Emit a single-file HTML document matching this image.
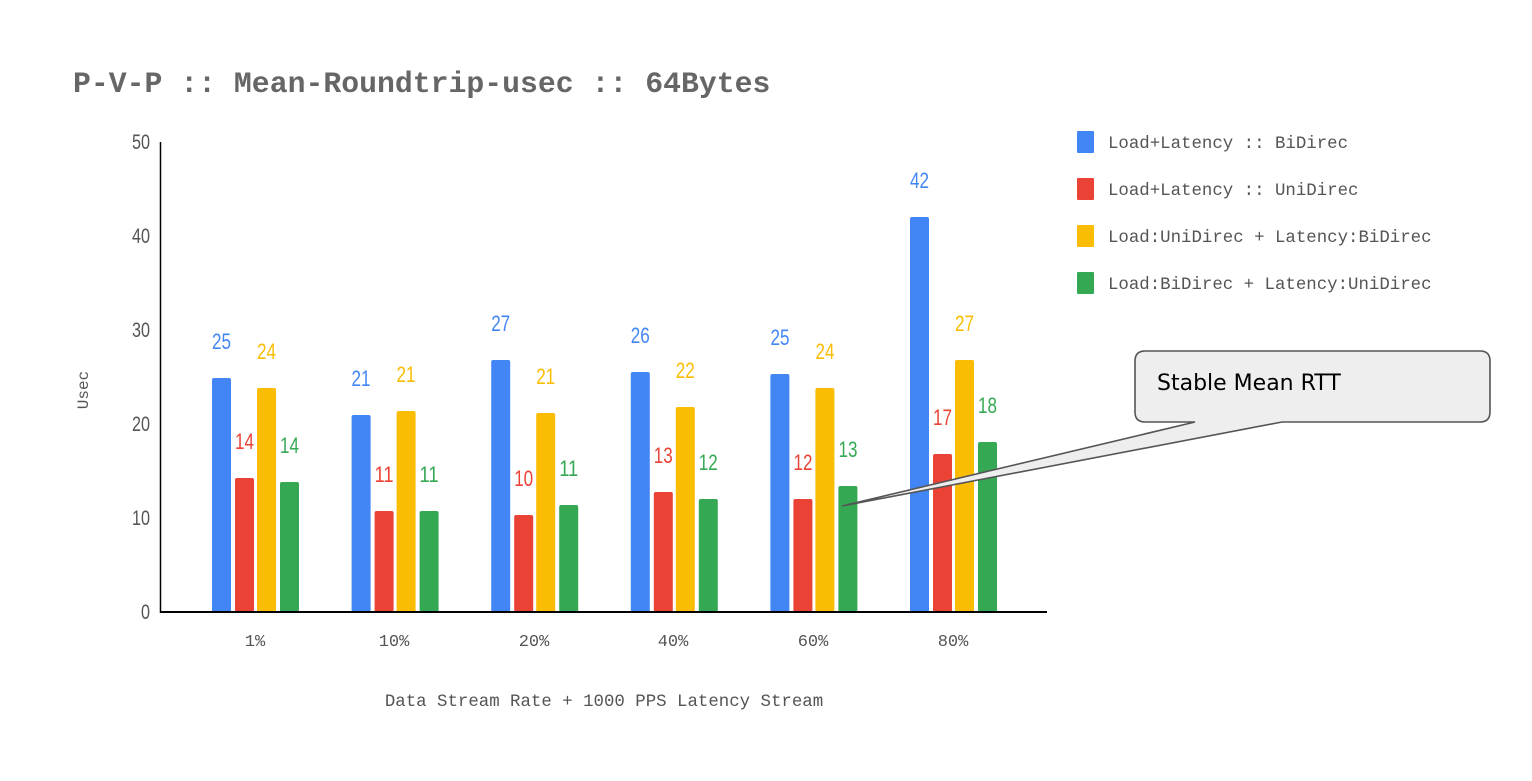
<!DOCTYPE html>
<html><head><meta charset="utf-8"><style>
html,body{margin:0;padding:0;background:#fff;}
svg{display:block;}
.m{font-family:"Liberation Mono",monospace;fill:#555;}
.n{font-family:"Liberation Sans",sans-serif;font-size:22px;text-anchor:middle;}
.t{font-family:"Liberation Sans",sans-serif;font-size:21px;fill:#555;text-anchor:end;}
</style></head><body>
<svg width="1532" height="781" viewBox="0 0 1532 781" xmlns="http://www.w3.org/2000/svg">
<text x="73" y="92" class="m" style="font-size:29.8px;font-weight:bold;fill:#666">P-V-P :: Mean-Roundtrip-usec :: 64Bytes</text>
<text class="t" x="150" y="149" textLength="18" lengthAdjust="spacingAndGlyphs">50</text>
<text class="t" x="150" y="243" textLength="18" lengthAdjust="spacingAndGlyphs">40</text>
<text class="t" x="150" y="337" textLength="18" lengthAdjust="spacingAndGlyphs">30</text>
<text class="t" x="150" y="431" textLength="18" lengthAdjust="spacingAndGlyphs">20</text>
<text class="t" x="150" y="525" textLength="18" lengthAdjust="spacingAndGlyphs">10</text>
<text class="t" x="150" y="619" textLength="9" lengthAdjust="spacingAndGlyphs">0</text>
<text class="m" style="font-size:16px" transform="translate(88,390) rotate(-90)" text-anchor="middle">Usec</text>
<g>
<rect x="212" y="378" width="19" height="234" rx="2" fill="#4285F4"/><rect x="235" y="478" width="19" height="134" rx="2" fill="#EA4335"/><rect x="257" y="388" width="19" height="224" rx="2" fill="#FBBC04"/><rect x="280" y="482" width="19" height="130" rx="2" fill="#34A853"/>
<rect x="351.6" y="415" width="19" height="197" rx="2" fill="#4285F4"/><rect x="374.6" y="511" width="19" height="101" rx="2" fill="#EA4335"/><rect x="396.6" y="411" width="19" height="201" rx="2" fill="#FBBC04"/><rect x="419.6" y="511" width="19" height="101" rx="2" fill="#34A853"/>
<rect x="491.2" y="360" width="19" height="252" rx="2" fill="#4285F4"/><rect x="514.2" y="515" width="19" height="97" rx="2" fill="#EA4335"/><rect x="536.2" y="413" width="19" height="199" rx="2" fill="#FBBC04"/><rect x="559.2" y="505" width="19" height="107" rx="2" fill="#34A853"/>
<rect x="630.8" y="372" width="19" height="240" rx="2" fill="#4285F4"/><rect x="653.8" y="492" width="19" height="120" rx="2" fill="#EA4335"/><rect x="675.8" y="407" width="19" height="205" rx="2" fill="#FBBC04"/><rect x="698.8" y="499" width="19" height="113" rx="2" fill="#34A853"/>
<rect x="770.4" y="374" width="19" height="238" rx="2" fill="#4285F4"/><rect x="793.4" y="499" width="19" height="113" rx="2" fill="#EA4335"/><rect x="815.4" y="388" width="19" height="224" rx="2" fill="#FBBC04"/><rect x="838.4" y="486" width="19" height="126" rx="2" fill="#34A853"/>
<rect x="910" y="217" width="19" height="395" rx="2" fill="#4285F4"/><rect x="933" y="454" width="19" height="158" rx="2" fill="#EA4335"/><rect x="955" y="360" width="19" height="252" rx="2" fill="#FBBC04"/><rect x="978" y="442" width="19" height="170" rx="2" fill="#34A853"/>
</g>
<g class="n">
<text x="221.5" y="349" fill="#4285F4" textLength="19" lengthAdjust="spacingAndGlyphs">25</text><text x="244.5" y="449" fill="#EA4335" textLength="19" lengthAdjust="spacingAndGlyphs">14</text><text x="266.5" y="359" fill="#FBBC04" textLength="19" lengthAdjust="spacingAndGlyphs">24</text><text x="289.5" y="453" fill="#34A853" textLength="19" lengthAdjust="spacingAndGlyphs">14</text>
<text x="361" y="386" fill="#4285F4" textLength="19" lengthAdjust="spacingAndGlyphs">21</text><text x="384" y="482" fill="#EA4335" textLength="19" lengthAdjust="spacingAndGlyphs">11</text><text x="406" y="382" fill="#FBBC04" textLength="19" lengthAdjust="spacingAndGlyphs">21</text><text x="429" y="482" fill="#34A853" textLength="19" lengthAdjust="spacingAndGlyphs">11</text>
<text x="500.7" y="331" fill="#4285F4" textLength="19" lengthAdjust="spacingAndGlyphs">27</text><text x="523.7" y="486" fill="#EA4335" textLength="19" lengthAdjust="spacingAndGlyphs">10</text><text x="545.7" y="384" fill="#FBBC04" textLength="19" lengthAdjust="spacingAndGlyphs">21</text><text x="568.7" y="476" fill="#34A853" textLength="19" lengthAdjust="spacingAndGlyphs">11</text>
<text x="640.3" y="343" fill="#4285F4" textLength="19" lengthAdjust="spacingAndGlyphs">26</text><text x="663.3" y="463" fill="#EA4335" textLength="19" lengthAdjust="spacingAndGlyphs">13</text><text x="685.3" y="378" fill="#FBBC04" textLength="19" lengthAdjust="spacingAndGlyphs">22</text><text x="708.3" y="470" fill="#34A853" textLength="19" lengthAdjust="spacingAndGlyphs">12</text>
<text x="780" y="345" fill="#4285F4" textLength="19" lengthAdjust="spacingAndGlyphs">25</text><text x="803" y="470" fill="#EA4335" textLength="19" lengthAdjust="spacingAndGlyphs">12</text><text x="825" y="359" fill="#FBBC04" textLength="19" lengthAdjust="spacingAndGlyphs">24</text><text x="848" y="457" fill="#34A853" textLength="19" lengthAdjust="spacingAndGlyphs">13</text>
<text x="919.5" y="188" fill="#4285F4" textLength="19" lengthAdjust="spacingAndGlyphs">42</text><text x="942.5" y="425" fill="#EA4335" textLength="19" lengthAdjust="spacingAndGlyphs">17</text><text x="964.5" y="331" fill="#FBBC04" textLength="19" lengthAdjust="spacingAndGlyphs">27</text><text x="987.5" y="413" fill="#34A853" textLength="19" lengthAdjust="spacingAndGlyphs">18</text>
</g>
<line x1="160.5" y1="142" x2="160.5" y2="613" stroke="#000" stroke-width="1.5"/>
<line x1="160" y1="612" x2="1047" y2="612" stroke="#000" stroke-width="2"/>
<g class="m" style="font-size:17px" text-anchor="middle">
<text x="255" y="646">1%</text><text x="394" y="646">10%</text><text x="534" y="646">20%</text><text x="673" y="646">40%</text><text x="813" y="646">60%</text><text x="953" y="646">80%</text>
</g>
<text x="604" y="706" class="m" style="font-size:17.4px" text-anchor="middle">Data Stream Rate + 1000 PPS Latency Stream</text>
<rect x="1077" y="131" width="17" height="22" rx="1" fill="#4285F4"/>
<rect x="1077" y="178" width="17" height="22" rx="1" fill="#EA4335"/>
<rect x="1077" y="225" width="17" height="22" rx="1" fill="#FBBC04"/>
<rect x="1077" y="272" width="17" height="22" rx="1" fill="#34A853"/>
<g class="m" style="font-size:17.4px">
<text x="1108" y="148">Load+Latency :: BiDirec</text>
<text x="1108" y="195">Load+Latency :: UniDirec</text>
<text x="1108" y="242">Load:UniDirec + Latency:BiDirec</text>
<text x="1108" y="289">Load:BiDirec + Latency:UniDirec</text>
</g>
<path d="M1145,351 H1480 Q1490,351 1490,361 V412 Q1490,422 1480,422 H1282 L842,506 L1195,422 H1145 Q1135,422 1135,412 V361 Q1135,351 1145,351 Z" fill="#eeeeee" stroke="#555" stroke-width="1.6"/>
<text x="1157" y="390" style="font-family:'DejaVu Sans','Liberation Sans',sans-serif;font-size:22px;fill:#000">Stable Mean RTT</text>
</svg>
</body></html>
